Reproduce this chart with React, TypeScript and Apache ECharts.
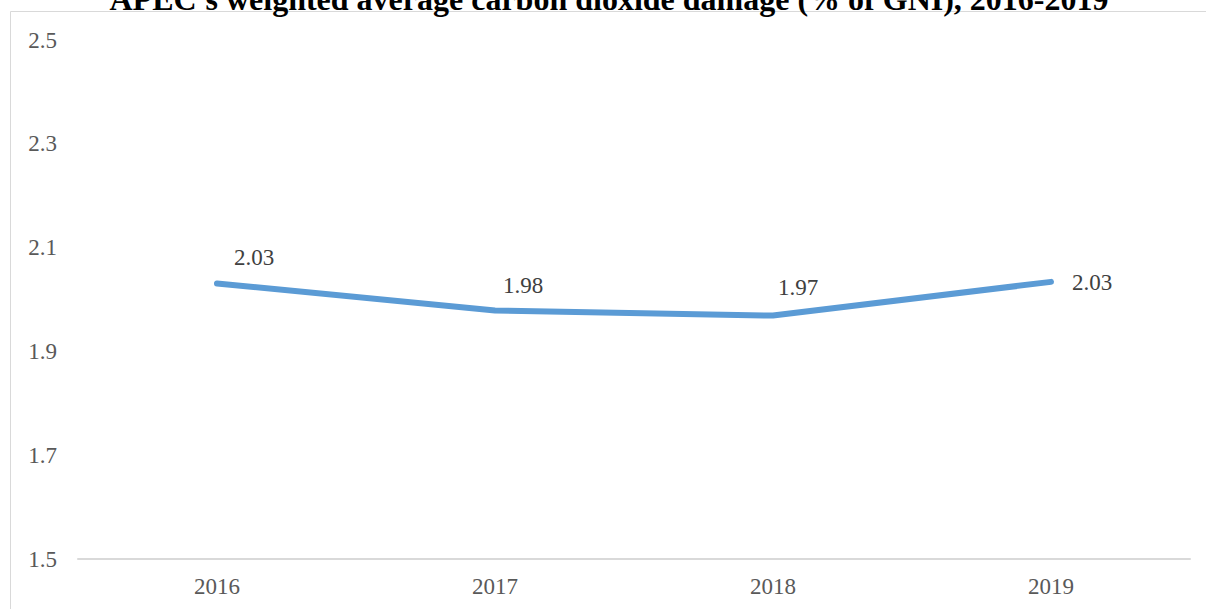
import React, { useEffect, useRef } from "react";
import * as echarts from "echarts";

const titleText = "APEC's weighted average carbon dioxide damage (% of GNI), 2016-2019";
const years = ["2016", "2017", "2018", "2019"];
const damage = [2.031, 1.979, 1.969, 2.034];
const labelTexts = ["2.03", "1.98", "1.97", "2.03"];
const labelOffsets: number[][] = [[37, -26], [28, -25], [25, -28], [41, 1]];

const FONT = "Liberation Serif, serif";

export default function App() {
  const ref = useRef<HTMLDivElement>(null);
  useEffect(() => {
    if (!ref.current) return;
    const chart = echarts.init(ref.current, undefined, { renderer: "svg" });
    chart.setOption({
      animation: false,
      backgroundColor: "#ffffff",
      textStyle: { fontFamily: FONT },
      graphic: [
        {
          type: "rect",
          shape: { x: 10.5, y: 11.5, width: 1400, height: 800 },
          style: { fill: "none", stroke: "#d9d9d9", lineWidth: 1 },
          silent: true,
          z: 0,
        },
        {
          type: "text",
          x: 609,
          y: 15,
          style: {
            text: titleText,
            fontFamily: FONT,
            fontSize: 32,
            fontWeight: "bold",
            fill: "#000000",
            textAlign: "center",
            textVerticalAlign: "bottom",
          },
          z: 10,
        },
      ],
      grid: { left: 78, right: 16, top: 40, bottom: 50, containLabel: false },
      xAxis: {
        type: "category",
        data: years,
        boundaryGap: true,
        axisLine: { show: true, lineStyle: { color: "#d9d9d9", width: 2 } },
        axisTick: { show: false },
        axisLabel: { color: "#595959", fontSize: 23, fontFamily: FONT, margin: 16 },
        splitLine: { show: false },
      },
      yAxis: {
        type: "value",
        min: 1.5,
        max: 2.5,
        interval: 0.2,
        axisLine: { show: false },
        axisTick: { show: false },
        splitLine: { show: false },
        axisLabel: {
          color: "#595959",
          fontSize: 23,
          fontFamily: FONT,
          margin: 21,
          formatter: (v: number) => v.toFixed(1),
        },
      },
      series: [
        {
          type: "line",
          data: damage.map((v, i) => ({
            value: v,
            label: {
              show: true,
              position: "inside",
              offset: labelOffsets[i],
              formatter: labelTexts[i],
              fontFamily: FONT,
            },
          })),
          symbol: "circle",
          symbolSize: 1,
          showSymbol: true,
          itemStyle: { color: "#5B9BD5" },
          lineStyle: { color: "#5B9BD5", width: 6, cap: "round", join: "round" },
          label: {
            show: true,
            color: "#404040",
            fontSize: 23,
            fontFamily: FONT,
          },
        },
      ],
    });
    return () => chart.dispose();
  }, []);
  return (
    <div
      ref={ref}
      style={{ position: "fixed", left: 0, top: 0, width: 1206, height: 609 }}
    />
  );
}
